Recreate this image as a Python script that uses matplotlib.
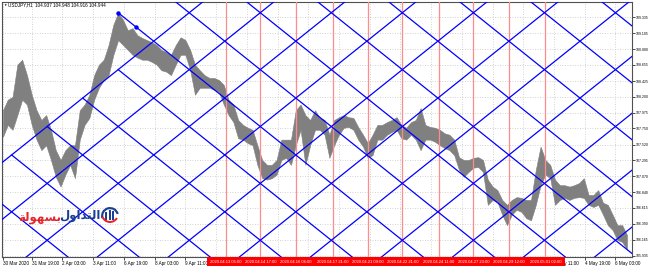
import numpy as np
import pandas as pd
import matplotlib
matplotlib.use("Agg")
import matplotlib.pyplot as plt
import matplotlib.transforms as mtransforms
from matplotlib.patches import Wedge, Rectangle

# ---- data ----
title = "USDJPY,H1  104.937 104.948 104.916 104.944"
first_bar = "2020-03-30 13:00"
bar_step = 5  # H1 bars between price samples

price_high = [108.01, 108.16, 108.20, 108.66, 108.73, 108.51, 108.23, 108.01, 107.87, 107.94,
              107.73, 107.44, 107.30, 107.44, 107.51, 107.51, 108.01, 108.09, 108.23, 108.51,
              108.66, 108.73, 108.94, 109.23, 109.40, 109.30, 109.15, 109.18, 109.08, 109.04,
              109.01, 108.98, 108.94, 108.87, 108.84, 108.80, 108.94, 109.05, 109.01, 108.87,
              108.66, 108.58, 108.51, 108.47, 108.47, 108.44, 108.37, 108.16, 108.09, 107.87,
              107.80, 107.76, 107.73, 107.51, 107.30, 107.23, 107.23, 107.30, 107.59, 107.59,
              107.59, 108.01, 108.09, 107.94, 107.87, 108.01, 107.90, 107.87, 107.66, 107.87,
              107.91, 107.94, 107.91, 107.90, 107.77, 107.66, 107.54, 107.66, 107.80, 107.80,
              107.84, 107.87, 107.91, 107.80, 107.76, 107.84, 107.87, 108.04, 107.80, 107.77,
              107.76, 107.73, 107.68, 107.66, 107.59, 107.34, 107.30, 107.30, 107.33, 107.34,
              107.30, 107.02, 106.92, 106.87, 106.73, 106.66, 106.73, 106.77, 106.76, 106.73,
              106.73, 107.16, 107.49, 107.30, 107.23, 107.02, 106.94, 106.94, 106.92, 106.94,
              106.97, 107.04, 106.80, 106.80, 106.87, 106.69, 106.66, 106.52, 106.37, 106.37,
              106.23]
price_low = [107.63, 107.80, 107.73, 107.94, 108.16, 108.09, 107.80, 107.59, 107.44, 107.51,
             107.30, 107.06, 106.92, 107.09, 107.23, 107.04, 107.59, 107.80, 107.90, 108.16,
             108.33, 108.44, 108.51, 108.80, 109.01, 108.94, 108.87, 108.80, 108.76, 108.73,
             108.73, 108.70, 108.66, 108.58, 108.56, 108.51, 108.66, 108.80, 108.80, 108.58,
             108.23, 108.33, 108.33, 108.33, 108.30, 108.27, 108.09, 107.94, 107.84, 107.61,
             107.59, 107.54, 107.51, 107.23, 107.04, 107.02, 107.04, 107.09, 107.30, 107.33,
             107.23, 107.51, 107.73, 107.23, 107.51, 107.73, 107.73, 107.66, 107.33, 107.51,
             107.66, 107.76, 107.77, 107.73, 107.59, 107.49, 107.33, 107.37, 107.59, 107.59,
             107.66, 107.70, 107.73, 107.61, 107.59, 107.66, 107.59, 107.44, 107.59, 107.59,
             107.56, 107.51, 107.47, 107.44, 107.37, 107.16, 107.06, 107.13, 107.19, 107.20,
             107.13, 106.66, 106.73, 106.70, 106.52, 106.37, 106.52, 106.59, 106.56, 106.47,
             106.44, 106.66, 106.94, 107.09, 107.04, 106.66, 106.73, 106.76, 106.73, 106.76,
             106.77, 106.76, 106.66, 106.63, 106.66, 106.52, 106.37, 106.30, 106.16, 106.13,
             106.02]

price_ticks = [109.335, 109.105, 108.880, 108.655, 108.425, 108.200, 107.975, 107.750,
               107.520, 107.295, 107.070, 106.840, 106.615, 106.390, 106.165, 105.935]

time_ticks = ["2020-03-30 13:00", "2020-03-31 19:00", "2020-04-02 03:00", "2020-04-03 11:00",
              "2020-04-06 19:00", "2020-04-08 03:00", "2020-04-09 11:00", "2020-04-10 19:00",
              "2020-04-14 03:00", "2020-04-15 11:00", "2020-04-16 19:00", "2020-04-20 03:00",
              "2020-04-21 11:00", "2020-04-22 19:00", "2020-04-24 03:00", "2020-04-27 11:00",
              "2020-04-28 19:00", "2020-04-30 03:00", "2020-05-01 11:00", "2020-05-04 19:00",
              "2020-05-06 03:00"]
# ticks whose labels sit under the red marker strip
hidden_ticks = ["2020-04-10 19:00", "2020-04-14 03:00", "2020-04-15 11:00", "2020-04-16 19:00",
                "2020-04-20 03:00", "2020-04-21 11:00", "2020-04-22 19:00", "2020-04-24 03:00",
                "2020-04-27 11:00", "2020-04-28 19:00", "2020-04-30 03:00"]

red_times = ["2020-04-13 05:00", "2020-04-14 17:00", "2020-04-16 06:00", "2020-04-17 21:00",
             "2020-04-21 09:00", "2020-04-22 21:00", "2020-04-24 11:00", "2020-04-27 23:00",
             "2020-04-29 12:00", "2020-05-01 02:00"]

gann_time = "2020-04-06 13:00"
gann_price = 109.40
gann_step_bars = 37
gann_step_price = 0.4057

# ---- trading hour calendar (H1 bars, Mon-Fri) ----
hours = pd.date_range(first_bar, periods=1200, freq="h")
hours = hours[hours.dayofweek < 5]
bar_index = {t: i for i, t in enumerate(hours)}


def bar(ts):
    return bar_index[pd.Timestamp(ts)]


fig = plt.figure(figsize=(6.5, 2.67), dpi=100)
ax = fig.add_axes([2 / 650, 10 / 267, 630 / 650, 255 / 267])
ax.set_xlim(-1.0, 655.2)
ax.set_ylim(105.916, 109.553)

small = ["Liberation Sans", "DejaVu Sans"]

# price bars
xs = np.arange(len(price_high)) * bar_step
ax.fill_between(xs, price_low, price_high, color="#808080", lw=0.4, zorder=2)

# red time markers
for t in red_times:
    ax.axvline(bar(t), color="#ff8c8c", lw=0.9, zorder=3)

# gann grid
i0 = bar(gann_time)
s = gann_step_price / gann_step_bars
vp = 2 * gann_step_price
x_end = 700
for m in range(1, 14):  # rising lines
    xx = np.array([-50, x_end])
    ax.plot(xx, gann_price + s * (xx - i0) - m * vp, color="#0000ff", lw=0.9, zorder=4)
for m in range(-8, 9):  # falling lines
    x0 = i0 + min(0, (1 - m) * gann_step_bars)
    xx = np.array([x0, x_end])
    ax.plot(xx, gann_price - s * (xx - i0) - m * vp, color="#0000ff", lw=0.9, zorder=4)
ax.plot([i0, i0 + 19], [gann_price, gann_price - 19 * s], "o", color="#0000ff", ms=2.2, zorder=5)

# axes styling
ax.yaxis.tick_right()
ax.set_yticks(price_ticks, [f"{v:.3f}" for v in price_ticks])
tt = [pd.Timestamp(t) for t in time_ticks]
hid = {pd.Timestamp(t) for t in hidden_ticks}
labels = []
for k, t in enumerate(tt):
    if t in hid:
        labels.append("")
    elif k == 0:
        labels.append(f"{t.day} {t:%b %Y}")
    else:
        labels.append(f"{t.day} {t:%b %H:%M}")
ax.set_xticks([bar(t) for t in tt], labels)
for lab in ax.get_xticklabels():
    lab.set_horizontalalignment("left")
    lab.set_fontfamily(small)
for lab in ax.get_yticklabels():
    lab.set_fontfamily(small)
ax.tick_params(axis="x", labelsize=3.3, length=2, width=0.5, pad=0.8, colors="black")
ax.tick_params(axis="y", labelsize=2.5, length=2, width=0.5, pad=0.8, colors="black")
ax.grid(True, color="#c4c4c4", linestyle=(0, (1, 2)), lw=0.6, zorder=0)
ax.set_axisbelow(True)
for sp in ax.spines.values():
    sp.set_color("#505050")
    sp.set_linewidth(0.8)

# red time labels on a continuous strip
trans = mtransforms.blended_transform_factory(ax.transData, ax.transAxes)
b0, b1 = bar(red_times[0]) - 19.5, bar(red_times[-1]) + 20
ax.add_patch(Rectangle((b0, -0.037), b1 - b0, 0.036, transform=trans, fc="#ff0000", ec="none",
                       clip_on=False, zorder=5))
for t in red_times:
    ts = pd.Timestamp(t)
    ax.text(bar(t), -0.019, ts.strftime("%Y.%m.%d %H:%M"), transform=trans, ha="center",
            va="center", fontsize=3.0, family=small, color="white", clip_on=False, zorder=6)

# title
fig.text(3 / 650, 1 - 5 / 267, "\u25bc", fontsize=2.5, family=small, va="center", ha="left")
fig.text(8 / 650, 1 - 5 / 267, title, fontsize=3.3, family=small, va="center", ha="left")

# watermark logo
fig.text(40 / 650, 1 - 217 / 267, "\ufe94\ufedf\ufeee\ufeec\ufeb4\ufe91", fontsize=8.5,
         fontweight="bold", color="#e3262d", family=["DejaVu Sans"], ha="center", va="center")
fig.text(80 / 650, 1 - 215 / 267, "\ufedd\ufeed\ufe8d\ufeaa\ufe98\ufedf\ufe8d", fontsize=8.5,
         fontweight="bold", color="#1c3f94", family=["DejaVu Sans"], ha="center", va="center")
px = mtransforms.IdentityTransform()
cx, cy = 110, 267 - 216
fig.patches.append(Wedge((cx, cy), 9, 15, 195, width=2.2, fc="#1c3f94", ec="none", transform=px))
for dx, h in [(-5, 8), (-1.5, 10), (2, 9)]:
    fig.patches.append(Rectangle((cx + dx, cy - 4), 2, h, fc="#1c3f94", ec="none", transform=px))
fig.patches.append(Wedge((cx, cy + 2), 9, 200, 330, width=2, fc="#e3262d", ec="none", transform=px))

fig.savefig("out.png", dpi=100)
